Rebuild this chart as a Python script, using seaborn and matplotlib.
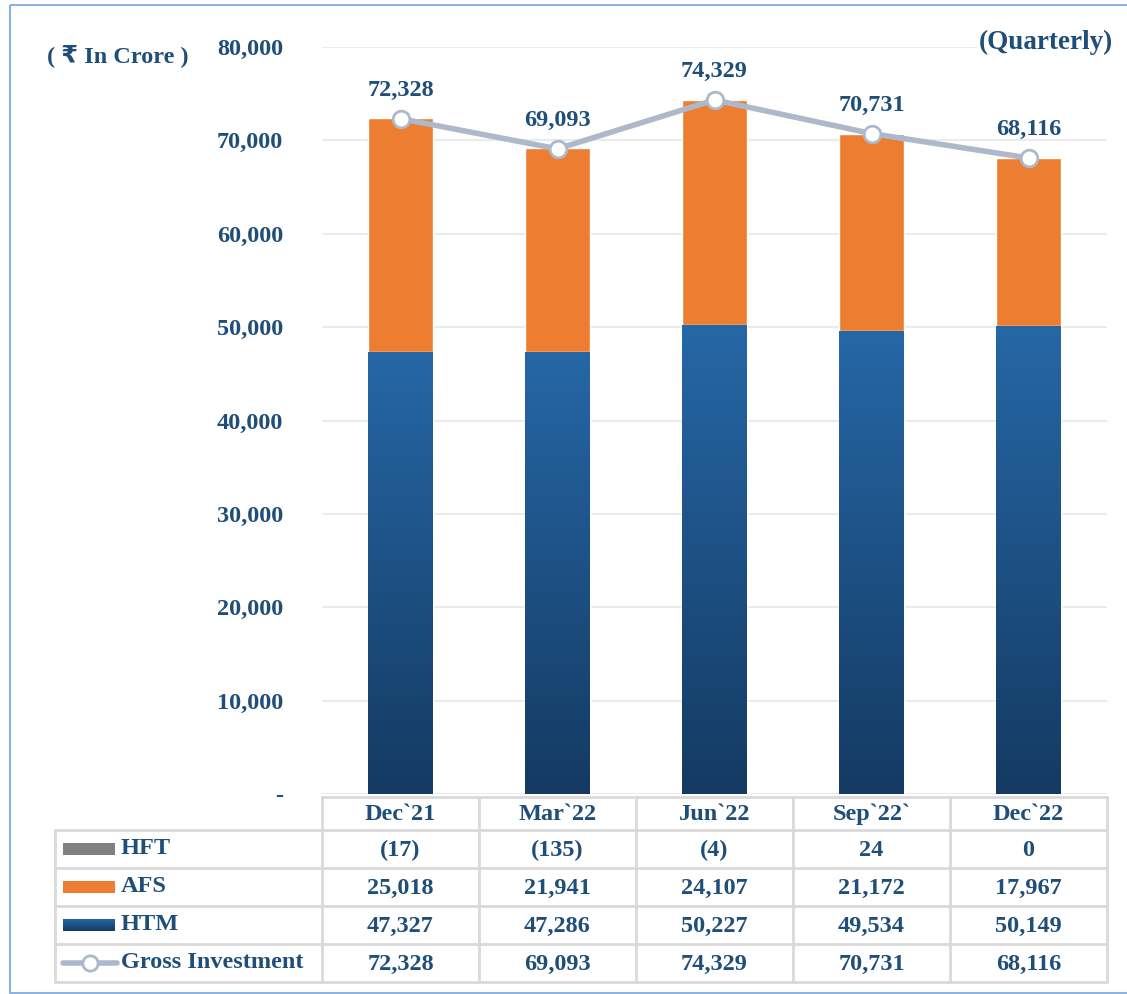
import numpy as np
import pandas as pd
import matplotlib
matplotlib.use("Agg")
import matplotlib.pyplot as plt
import seaborn as sns
from matplotlib.patches import Rectangle
from matplotlib.lines import Line2D
from matplotlib.colors import LinearSegmentedColormap

# ---------------- data ----------------
categories = ["Dec`21", "Mar`22", "Jun`22", "Sep`22`", "Dec`22"]
hft = [-17, -135, -4, 24, 0]
afs = [25018, 21941, 24107, 21172, 17967]
htm = [47327, 47286, 50227, 49534, 50149]
gross = [72328, 69093, 74329, 70731, 68116]
hft_labels = ["(17)", "(135)", "(4)", "24", "0"]
yticks = [0, 10000, 20000, 30000, 40000, 50000, 60000, 70000, 80000]
ytick_labels = ["-", "10,000", "20,000", "30,000", "40,000", "50,000",
                "60,000", "70,000", "80,000"]
series_names = ["HFT", "AFS", "HTM", "Gross Investment"]

# ---------------- style ----------------
sns.set_theme(style="white")
plt.rcParams["font.family"] = ["Liberation Serif", "DejaVu Sans", "Noto Sans"]
plt.rcParams["font.weight"] = "bold"

TXT = "#1f4e79"
ORANGE = "#ed7d31"
GRAY = "#808080"
LINEC = "#adb9ca"
GRID = "#ebebeb"
TABLE_LINE = "#d9d9d9"
htm_cmap = LinearSegmentedColormap.from_list("htm", ["#143a62", "#2667a6"])
FS = 17.5

W, H = 1127, 994
fig = plt.figure(figsize=(W / 100, H / 100), dpi=100)
ax = fig.add_axes([322 / W, 1 - 794 / H, (1107 - 322) / W, (794 - 47) / H])
ax.patch.set_alpha(0)

df = pd.DataFrame({"cat": categories, "hft": hft, "afs": afs, "htm": htm,
                   "total": np.array(htm) + np.array(afs), "gross": gross})

bw = 0.41
sns.barplot(data=df, x="cat", y="hft", color=GRAY, saturation=1, width=bw, ax=ax)
sns.barplot(data=df, x="cat", y="total", color=ORANGE, saturation=1, width=bw, ax=ax)
n_before = len(ax.patches)
sns.barplot(data=df, x="cat", y="htm", color="#1f5d99", saturation=1, width=bw, ax=ax)
htm_patches = ax.patches[n_before:]

ax.set_ylim(0, 80000)
xlim = ax.get_xlim()
grad = np.linspace(0, 1, 256).reshape(-1, 1)
for p in htm_patches:
    x0, y0 = p.get_x(), p.get_y()
    w, h = p.get_width(), p.get_height()
    im = ax.imshow(grad, cmap=htm_cmap, origin="lower", aspect="auto",
                   extent=[x0, x0 + w, y0, y0 + h], zorder=p.get_zorder())
    im.set_clip_path(p)
    p.set_facecolor("none")
ax.set_xlim(xlim)
ax.set_ylim(0, 80000)

sns.lineplot(data=df, x="cat", y="gross", sort=False, color=LINEC, linewidth=4,
             marker="o", markersize=12, markerfacecolor="white",
             markeredgecolor=LINEC, markeredgewidth=2, ax=ax, zorder=5)

for i, v in enumerate(gross):
    ax.annotate(f"{v:,}", (i, v), xytext=(0, 13), textcoords="offset points",
                ha="center", va="bottom", color=TXT, fontsize=FS,
                fontweight="bold", annotation_clip=False)

ax.set_yticks(yticks)
ax.set_yticklabels(ytick_labels, color=TXT, fontsize=FS, fontweight="bold")
ax.tick_params(axis="y", length=0, pad=28)
ax.set_xticks(range(len(categories)))
ax.set_xticklabels([])
ax.tick_params(axis="x", length=0)
ax.set_xlabel("")
ax.set_ylabel("")
ax.yaxis.grid(True, color=GRID, linewidth=1.5)
ax.set_axisbelow(True)
for s in ax.spines.values():
    s.set_visible(False)

# ---------------- table (pixel coordinates overlay) ----------------
tab = fig.add_axes([0, 0, 1, 1], zorder=3)
tab.set_xlim(0, W)
tab.set_ylim(H, 0)
tab.axis("off")

col_edges = [ax.transData.transform((i - 0.5, 0))[0] for i in range(len(categories) + 1)]
col_centers = [ax.transData.transform((i, 0))[0] for i in range(len(categories))]
hdr_top, hdr_bot = 797, 830
row_edges = [830, 868, 906, 944, 982]
label_left = 55

lw = 2
tab.plot([col_edges[0], col_edges[-1]], [hdr_top, hdr_top], color=TABLE_LINE, lw=lw)
for xe in col_edges:
    tab.plot([xe, xe], [hdr_top, row_edges[-1]], color=TABLE_LINE, lw=lw)
for ye in row_edges:
    tab.plot([label_left, col_edges[-1]], [ye, ye], color=TABLE_LINE, lw=lw)
tab.plot([label_left, label_left], [row_edges[0], row_edges[-1]], color=TABLE_LINE, lw=lw)

for i, c in enumerate(categories):
    tab.text(col_centers[i], (hdr_top + hdr_bot) / 2 + 1, c, ha="center", va="center",
             color=TXT, fontsize=FS, fontweight="bold")

rows = [hft_labels, [f"{v:,}" for v in afs], [f"{v:,}" for v in htm],
        [f"{v:,}" for v in gross]]
for r, vals in enumerate(rows):
    yc = (row_edges[r] + row_edges[r + 1]) / 2
    for i, t in enumerate(vals):
        tab.text(col_centers[i], yc + 1, t, ha="center", va="center",
                 color=TXT, fontsize=FS, fontweight="bold")
    tab.text(121, yc, series_names[r], ha="left", va="center",
             color=TXT, fontsize=FS, fontweight="bold")

# legend swatches
sw_x0, sw_x1 = 63, 115
yc0 = (row_edges[0] + row_edges[1]) / 2
tab.add_patch(Rectangle((sw_x0, yc0 - 6), sw_x1 - sw_x0, 12, color=GRAY, lw=0))
yc1 = (row_edges[1] + row_edges[2]) / 2
tab.add_patch(Rectangle((sw_x0, yc1 - 6), sw_x1 - sw_x0, 12, color=ORANGE, lw=0))
yc2 = (row_edges[2] + row_edges[3]) / 2
tab.imshow(grad[::-1], cmap=htm_cmap, aspect="auto",
           extent=[sw_x0, sw_x1, yc2 + 6, yc2 - 6])
tab.set_xlim(0, W)
tab.set_ylim(H, 0)
yc3 = (row_edges[3] + row_edges[4]) / 2
tab.add_line(Line2D([sw_x0, sw_x1 + 2], [yc3, yc3], color=LINEC, lw=4,
                    solid_capstyle="round"))
tab.add_line(Line2D([(sw_x0 + sw_x1) / 2 + 1], [yc3], marker="o", markersize=11,
                    markerfacecolor="white", markeredgecolor=LINEC,
                    markeredgewidth=2))

# titles
tab.text(47, 56, "( ₹ In Crore )", ha="left", va="center", color=TXT,
         fontsize=FS, fontweight="bold")
tab.text(1113, 42, "(Quarterly)", ha="right", va="center", color=TXT,
         fontsize=FS + 2, fontweight="bold",
         bbox=dict(facecolor="white", edgecolor="none", pad=1))

# outer frame
tab.add_patch(Rectangle((10, 5), W, 988, fill=False, edgecolor="#8db3e2",
                        lw=1.5, clip_on=False))

fig.savefig("out.png", dpi=100)
